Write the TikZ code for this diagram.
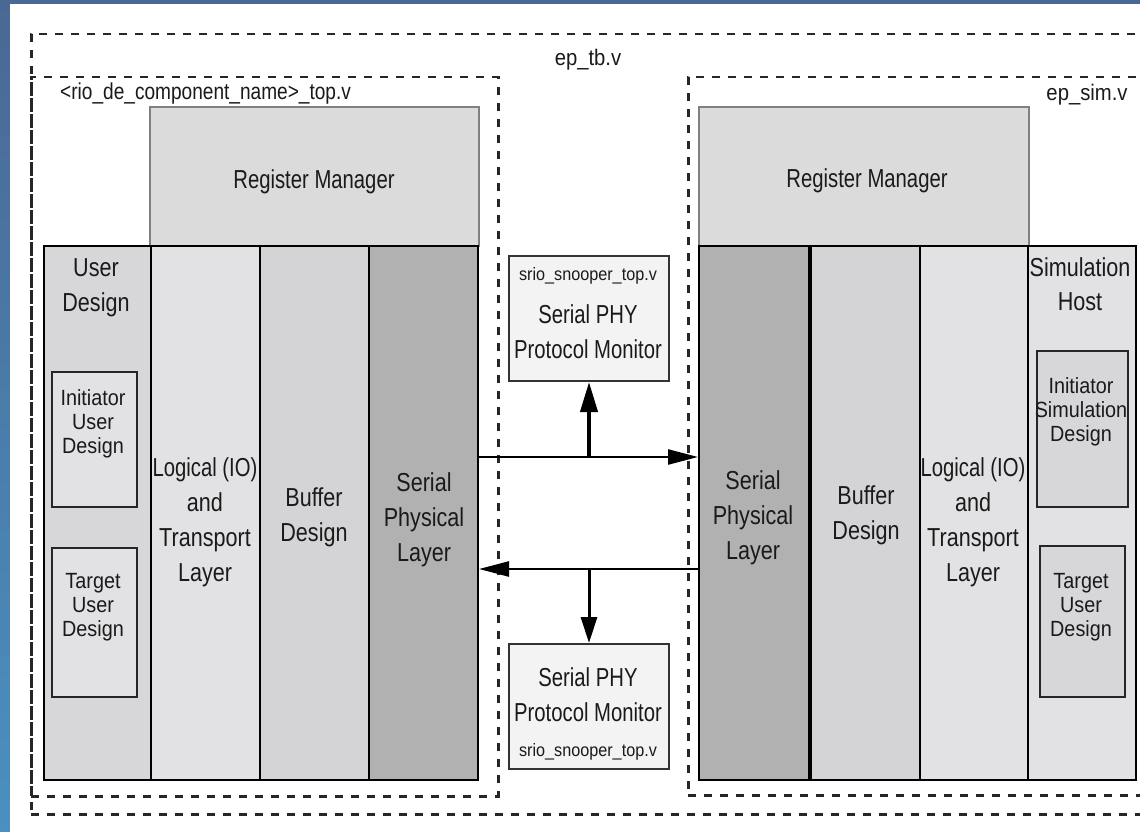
\documentclass[tikz,border=0pt]{standalone}
\usepackage{fontspec}
\setmainfont{Liberation Sans}
\newfontfamily\fA{Liberation Sans}[FakeStretch=0.83]
\newfontfamily\fB{Liberation Sans}[FakeStretch=0.9]
\newfontfamily\fC{Liberation Sans}[FakeStretch=0.78]
\usetikzlibrary{arrows.meta}
\definecolor{bgtop}{HTML}{4A6894}
\definecolor{bgbot}{HTML}{4A90C0}
\definecolor{txt}{HTML}{1A1A1A}
\definecolor{cRM}{HTML}{DBDBDB}
\definecolor{cUD}{HTML}{D7D7D9}
\definecolor{cLT}{HTML}{E2E2E4}
\definecolor{cBD}{HTML}{D4D4D6}
\definecolor{cSP}{HTML}{B1B1B1}
\definecolor{cSN}{HTML}{F3F3F3}
\begin{document}
\begin{tikzpicture}[x=1pt,y=-1pt,
  dsh/.style={draw=black!85, line width=2.5pt, dash pattern=on 8pt off 8pt, inner sep=0pt, anchor=north west},
  rmbox/.style={draw=black!50, line width=2pt, fill=cRM, inner sep=0pt, anchor=north west},
  col/.style={draw=black, line width=2pt, inner sep=0pt, anchor=north west, minimum height=534pt},
  inbox/.style={draw=black!85, line width=2pt, inner sep=0pt, anchor=north west},
  snbox/.style={draw=black!80, line width=2pt, fill=cSN, inner sep=0pt, anchor=north west, minimum width=160pt, minimum height=125pt},
  lab/.style={inner sep=0pt, anchor=north, text=txt},
  colT/.style={inner sep=0pt, align=center, anchor=north, text=txt, font=\fA\fontsize{26}{35}\selectfont},
  innT/.style={colT, font=\fB\fontsize{22}{24}\selectfont},
  snT/.style={colT, font=\fC\fontsize{26}{35}\selectfont},
  snL/.style={lab, font=\fB\fontsize{18}{20}\selectfont},
  arr/.style={line width=2.5pt, -{Triangle[length=30pt,width=15pt]}},
  arrUp/.style={line width=4pt, -{Triangle[length=30pt,width=17pt]}},
  arrDn/.style={line width=3pt, -{Triangle[length=26pt,width=16pt]}}
]
\useasboundingbox (0,0) rectangle (1140,832);
\clip (0,0) rectangle (1140,832);
% slide background
\fill[top color=bgtop, bottom color=bgbot] (0,0) rectangle (1140,832);
\fill[white] (10,4) rectangle (1140,832);

% dashed containers
\node[dsh, minimum width=1130pt, minimum height=780pt] (outer) at (30,33) {};
\node[dsh, minimum width=467pt, minimum height=719pt] (lbox) at (30,76) {};
\node[dsh, minimum width=473pt, minimum height=718pt] (rbox) at (687,76) {};
\node[lab, font=\fB\fontsize{22.5}{24}\selectfont] (tbl) at (588,49) {ep\_tb.v};
\node[lab, anchor=north west, font=\fA\fontsize{23}{26}\selectfont] (cnl) at (60,83) {<rio\_de\_component\_name>\_top.v};
\node[lab, font=\fB\fontsize{22.5}{24}\selectfont] (siml) at (1087,84) {ep\_sim.v};

% left side
\node[rmbox, minimum width=329pt, minimum height=139pt] (lrm) at (149,106) {};
\node[colT, font=\fC\fontsize{26}{35}\selectfont] (lrmT) at (314,169) {Register Manager};
\node[col, fill=cUD, minimum width=107pt] (lud) at (43,245) {};
\node[col, fill=cLT, minimum width=109pt] (llt) at (150,245) {};
\node[col, fill=cBD, minimum width=109pt] (lbd) at (259,245) {};
\node[col, fill=cSP, minimum width=109pt] (lspl) at (368,245) {};
\node[inbox, fill=cLT, minimum width=85pt, minimum height=135pt] (lini) at (51,371) {};
\node[inbox, fill=cLT, minimum width=85pt, minimum height=149pt] (ltgt) at (51,547) {};
\node[colT] (ludT) at (96,258) {User\\Design};
\node[innT] (liniT) at (93,389) {Initiator\\User\\Design};
\node[innT] (ltgtT) at (93,573) {Target\\User\\Design};
\node[colT] (lltT) at (205,457) {{\fC Logical (IO)}\\and\\Transport\\Layer};
\node[colT] (lbdT) at (314,487) {Buffer\\Design};
\node[colT] (lsplT) at (424,472) {Serial\\Physical\\Layer};

% right side
\node[rmbox, minimum width=330pt, minimum height=139pt] (rrm) at (698,106) {};
\node[colT, font=\fC\fontsize{26}{35}\selectfont] (rrmT) at (867,168) {Register Manager};
\node[col, fill=cSP, minimum width=110pt] (rspl) at (698,245) {};
\node[col, fill=cBD, minimum width=111pt] (rbd) at (808,245) {};
\node[col, fill=cLT, minimum width=108pt] (rlt) at (919,245) {};
\node[col, fill=cLT, minimum width=108pt] (rsh) at (1027,245) {};
\draw[line width=4.5pt] (rspl.north east) -- (rspl.south east);
\node[inbox, fill=cUD, minimum width=91pt, minimum height=156pt] (rini) at (1036,350) {};
\node[inbox, fill=cUD, minimum width=85pt, minimum height=151pt] (rtgt) at (1039,545) {};
\node[colT] (rsplT) at (753,470) {Serial\\Physical\\Layer};
\node[colT] (rbdT) at (866,485) {Buffer\\Design};
\node[colT] (rltT) at (973,457) {{\fC Logical (IO)}\\and\\Transport\\Layer};
\node[colT, font=\fA\fontsize{26}{34}\selectfont] (rshT) at (1080,257) {Simulation\\Host};
\node[innT] (riniT) at (1081,377) {Initiator\\Simulation\\Design};
\node[innT] (rtgtT) at (1081,573) {Target\\User\\Design};

% snoopers
\node[snbox] (snt) at (508,255) {};
\node[snL] (sntL) at (588,267) {srio\_snooper\_top.v};
\node[snT] (sntT) at (588,304) {Serial PHY\\Protocol Monitor};
\node[snbox] (snb) at (508,643) {};
\node[snT] (snbT) at (588,667) {Serial PHY\\Protocol Monitor};
\node[snL] (snbL) at (588,743) {srio\_snooper\_top.v};

% connectors
\coordinate (ta) at ([yshift=56pt]lspl.east);
\coordinate (tb) at ([yshift=56pt]rspl.west);
\coordinate (ba) at ([yshift=-56pt]rspl.west);
\coordinate (bb) at ([yshift=-56pt]lspl.east);
\draw[arr] (ta) -- (tb);
\draw[arr] (ba) -- (bb);
\draw[arrUp] (ta -| snt.south) -- (snt.south);
\draw[arrDn] (ba -| snb.north) -- (snb.north);
\end{tikzpicture}
\end{document}
